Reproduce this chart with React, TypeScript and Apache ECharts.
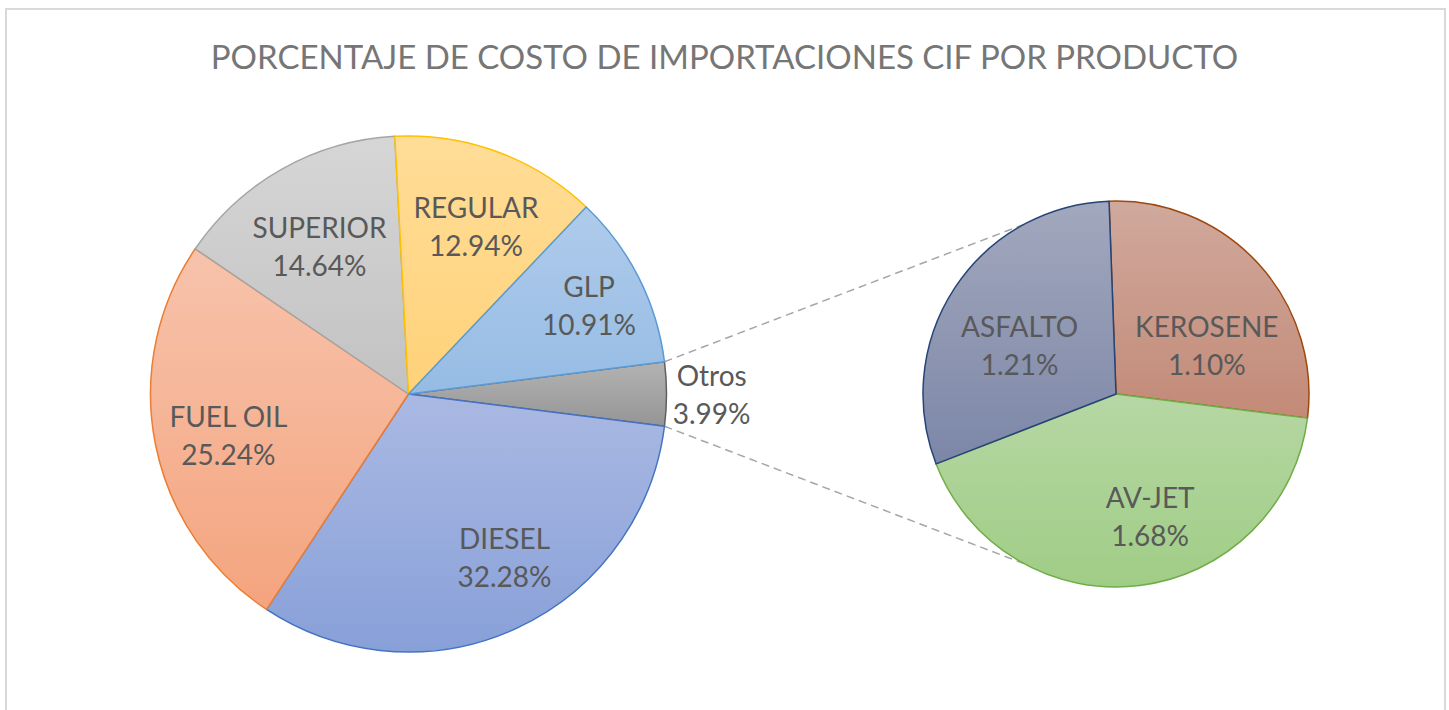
import React, { useEffect, useRef } from "react";
import * as echarts from "echarts";

// ---- data ----
const titleText = "PORCENTAJE DE COSTO DE IMPORTACIONES CIF POR PRODUCTO";
const mainNames = ["Otros", "DIESEL", "FUEL OIL", "SUPERIOR", "REGULAR", "GLP"];
const mainValues = [3.99, 32.28, 25.24, 14.64, 12.94, 10.91];
const subNames = ["KEROSENE", "AV-JET", "ASFALTO"];
const subValues = [1.1, 1.68, 1.21];

// ---- styles / geometry ----
const FONT = "Lato";
const MAIN_C = [408.5, 394];
const MAIN_R = 258;
const SUB_C = [1116, 394];
const SUB_R = 193;

const mainStyle: Record<string, { top: string; bottom: string; border: string }> = {
  Otros: { top: "#b3b3b3", bottom: "#959595", border: "#5f5f5f" },
  DIESEL: { top: "#aab9e3", bottom: "#88a0d8", border: "#4472C4" },
  "FUEL OIL": { top: "#f7c3ac", bottom: "#f4a47e", border: "#ED7D31" },
  SUPERIOR: { top: "#d6d6d6", bottom: "#c2c2c2", border: "#A5A5A5" },
  REGULAR: { top: "#ffdd97", bottom: "#ffd27a", border: "#FFC000" },
  GLP: { top: "#afcbeb", bottom: "#96bce4", border: "#5B9BD5" },
};
const subStyle: Record<string, { top: string; bottom: string; border: string }> = {
  KEROSENE: { top: "#d0a99d", bottom: "#c38a77", border: "#9E480E" },
  "AV-JET": { top: "#b6d7a4", bottom: "#a0cd86", border: "#70AD47" },
  ASFALTO: { top: "#a2a8bd", bottom: "#7c86a7", border: "#264478" },
};

// label placement (radius factor, angle nudge in degrees)
const mainLabelK = [1.175, 0.733, 0.716, 0.67, 0.7, 0.78];
const mainLabelDA = [0, 5.8, 1.6, 1.6, -1.7, -0.6];
const subLabelK = [0.535, 0.656, 0.56];
const subLabelDA = [-14, 8.6, 6.4];
const CONNECT_ANGLE = 118.5;

function sum(a: number[]) {
  return a.reduce((s, v) => s + v, 0);
}
function midAngles(values: number[], start: number) {
  const total = sum(values);
  let cum = 0;
  return values.map((v) => {
    const m = start - ((cum + v / 2) / total) * 360;
    cum += v;
    return m;
  });
}
function grad(s: { top: string; bottom: string }) {
  return new echarts.graphic.LinearGradient(0, 0, 0, 1, [
    { offset: 0, color: s.top },
    { offset: 1, color: s.bottom },
  ]);
}
function polar(c: number[], r: number, deg: number) {
  const a = (deg * Math.PI) / 180;
  return [c[0] + r * Math.cos(a), c[1] - r * Math.sin(a)];
}

export default function App() {
  const ref = useRef<HTMLDivElement>(null);
  useEffect(() => {
    if (!ref.current) return;
    const chart = echarts.init(ref.current, undefined, { renderer: "svg" });

    const mainTotal = sum(mainValues);
    const otrosHalf = (mainValues[0] / mainTotal) * 360 / 2;
    const mainStart = otrosHalf;
    const subTotal = sum(subValues);
    const subStart = -otrosHalf + (subValues[0] / subTotal) * 360;
    const mainMid = midAngles(mainValues, mainStart);
    const subMid = midAngles(subValues, subStart);

    const labelStyle = {
      show: true,
      position: "inside",
      color: "#595959",
      fontFamily: FONT,
      fontSize: 28,
      lineHeight: 38,
      formatter: (p: any) => `${p.name}\n${p.value.toFixed(2)}%`,
    };

    const mainData = mainNames.map((n, i) => ({
      name: n,
      value: mainValues[i],
      itemStyle: { color: grad(mainStyle[n]), borderColor: mainStyle[n].border, borderWidth: 1.5 },
    }));
    const subData = subNames.map((n, i) => ({
      name: n,
      value: subValues[i],
      itemStyle: { color: grad(subStyle[n]), borderColor: subStyle[n].border, borderWidth: 1.5 },
    }));

    const p1 = polar(MAIN_C, MAIN_R, otrosHalf);
    const p2 = polar(MAIN_C, MAIN_R, -otrosHalf);
    const q1 = polar(SUB_C, SUB_R, CONNECT_ANGLE);
    const q2 = polar(SUB_C, SUB_R, -CONNECT_ANGLE);
    const dashStyle = { stroke: "#a6a6a6", lineWidth: 1.5, lineDash: [8, 5] };

    chart.setOption({
      animation: false,
      backgroundColor: "#ffffff",
      title: {
        text: titleText,
        left: "center",
        top: 34,
        textStyle: { color: "#767676", fontFamily: FONT, fontSize: 33, fontWeight: "normal" },
      },
      graphic: [
        {
          type: "rect",
          shape: { x: 6, y: 9, width: 1439, height: 720 },
          style: { fill: "none", stroke: "#d9d9d9", lineWidth: 2 },
          silent: true,
        },
        {
          type: "line",
          shape: { x1: p1[0], y1: p1[1], x2: q1[0], y2: q1[1] },
          style: dashStyle,
          silent: true,
        },
        {
          type: "line",
          shape: { x1: p2[0], y1: p2[1], x2: q2[0], y2: q2[1] },
          style: dashStyle,
          silent: true,
        },
      ],
      series: [
        {
          type: "pie",
          center: MAIN_C,
          radius: MAIN_R,
          startAngle: mainStart,
          clockwise: true,
          avoidLabelOverlap: false,
          label: labelStyle,
          labelLine: { show: false },
          emphasis: { disabled: true },
          labelLayout: (params: any) => {
            const i = params.dataIndex;
            const [x, y] = polar(MAIN_C, MAIN_R * mainLabelK[i], mainMid[i] + mainLabelDA[i]);
            return { x, y, align: "center", verticalAlign: "middle" };
          },
          data: mainData,
        },
        {
          type: "pie",
          center: SUB_C,
          radius: SUB_R,
          startAngle: subStart,
          clockwise: true,
          avoidLabelOverlap: false,
          label: labelStyle,
          labelLine: { show: false },
          emphasis: { disabled: true },
          labelLayout: (params: any) => {
            const i = params.dataIndex;
            const [x, y] = polar(SUB_C, SUB_R * subLabelK[i], subMid[i] + subLabelDA[i]);
            return { x, y, align: "center", verticalAlign: "middle" };
          },
          data: subData,
        },
      ],
    });
    return () => chart.dispose();
  }, []);
  return (
    <div
      ref={ref}
      style={{ position: "absolute", left: 0, top: 0, width: 1449, height: 710 }}
    />
  );
}
